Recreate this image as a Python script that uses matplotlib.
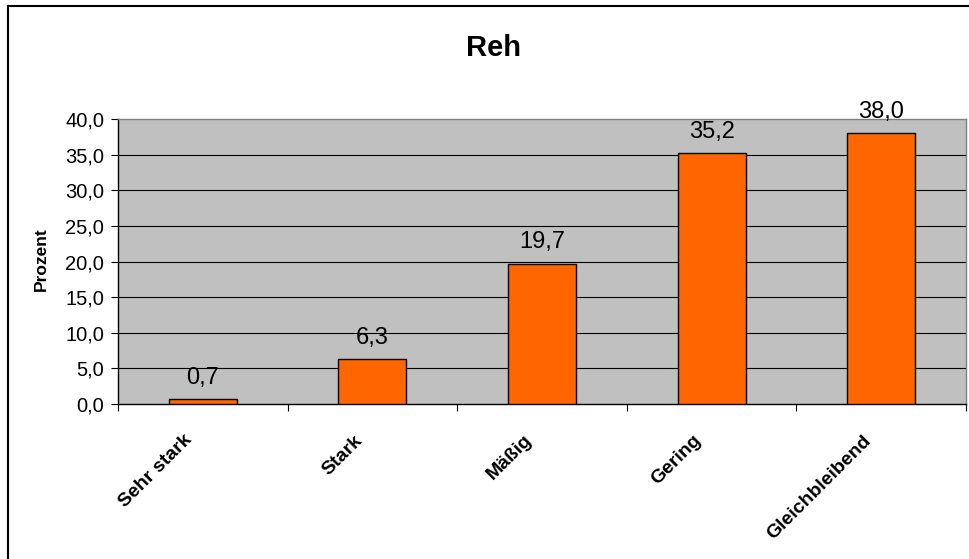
import matplotlib
matplotlib.use("Agg")
import matplotlib.pyplot as plt
import matplotlib.transforms as mtransforms
from matplotlib.lines import Line2D

categories = ["Sehr stark", "Stark", "Mäßig", "Gering", "Gleichbleibend"]
values = [0.7, 6.3, 19.7, 35.2, 38.0]
yticks = [0, 5, 10, 15, 20, 25, 30, 35, 40]

plt.rcParams['font.family'] = ['Liberation Sans', 'DejaVu Sans']

W, H = 969, 559
fig = plt.figure(figsize=(W / 100, H / 100), dpi=100)
fig.patch.set_facecolor('white')

# outer frame (left and top visible)
fig.add_artist(Line2D([8 / W, 8 / W], [0, 1 - 6 / H], color='black', lw=1.5, transform=fig.transFigure))
fig.add_artist(Line2D([8 / W, 1], [1 - 6 / H, 1 - 6 / H], color='black', lw=1.5, transform=fig.transFigure))

left, right, top, bottom = 118, 966, 119, 404
ax = fig.add_axes([left / W, 1 - bottom / H, (right - left) / W, (bottom - top) / H])
ax.set_facecolor('#C0C0C0')

x = list(range(len(categories)))
ax.bar(x, values, width=0.4, color='#FF6600', edgecolor='black', linewidth=1, zorder=3)

ax.set_xlim(-0.5, len(categories) - 0.5)
ax.set_ylim(0, 40)
ax.set_yticks(yticks)
ax.set_yticklabels([f"{v:.1f}".replace('.', ',') for v in yticks], fontsize=14.5)
for v in yticks[1:-1]:
    ax.axhline(v, color='black', lw=0.8, zorder=1)

ax.set_xticks([i - 0.5 for i in range(len(categories) + 1)], minor=False)
ax.set_xticklabels([])
ax.set_xticks(x, minor=True)
ax.set_xticklabels(categories, minor=True, rotation=45, ha='right', va='top',
                   rotation_mode='anchor', fontsize=14, fontweight='bold')
ax.tick_params(axis='x', which='minor', length=0, pad=20)
ax.tick_params(axis='x', which='major', length=5, width=0.8, direction='out')
ax.tick_params(axis='y', length=5, width=0.8, direction='out', pad=5)
for lbl in ax.get_xticklabels(minor=True):
    lbl.set_transform(lbl.get_transform() + mtransforms.ScaledTranslation(-19 / 100, 0, fig.dpi_scale_trans))

ax.spines['left'].set_color('black')
ax.spines['bottom'].set_color('black')
ax.spines['top'].set_color('#808080')
ax.spines['right'].set_color('#808080')
for s in ax.spines.values():
    s.set_linewidth(1)

for xi, v in zip(x, values):
    ax.annotate(f"{v:.1f}".replace('.', ','), (xi, v), xytext=(0, 11), textcoords='offset points',
                ha='center', va='baseline', fontsize=17, zorder=5, annotation_clip=False)

ax.set_ylabel("Prozent", fontsize=12.5, fontweight='bold')
ax.yaxis.set_label_coords(41 / W, 1 - 259 / H, transform=fig.transFigure)
ax.yaxis.label.set_va('center')
fig.text(494 / W, 1 - 48 / H, "Reh", ha='center', va='center', fontsize=21, fontweight='bold')

fig.savefig("out.png", dpi=100)
